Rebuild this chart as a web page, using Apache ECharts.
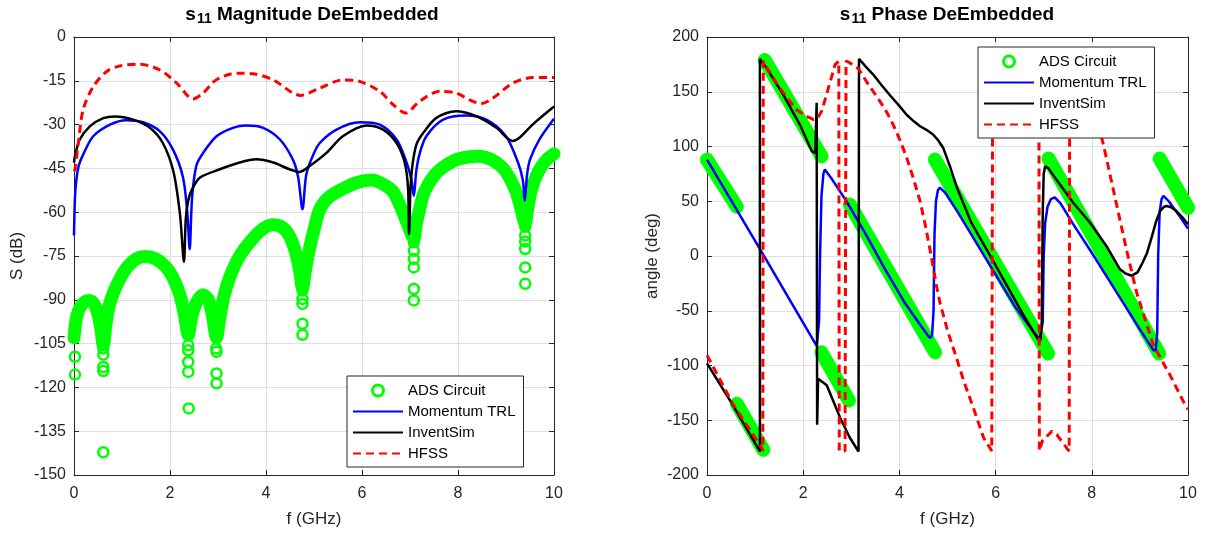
<!DOCTYPE html>
<html><head><meta charset="utf-8">
<script src="https://cdn.jsdelivr.net/npm/echarts@6/dist/echarts.min.js"></script>
<style>html,body{margin:0;padding:0;background:#fff}#c{width:1211px;height:533px}</style>
</head><body><div id="c"></div>
<script>
// ---------- axis ticks ----------
const freqTicks = [0, 2, 4, 6, 8, 10];
const magTicks = [-150, -135, -120, -105, -90, -75, -60, -45, -30, -15, 0];
const phaseTicks = [-200, -150, -100, -50, 0, 50, 100, 150, 200];
const legendNames = ['ADS Circuit', 'Momentum TRL', 'InventSim', 'HFSS'];

// ---------- magnitude (dB) ----------
const adsMagBand = [
[0,-103],[0.04,-97],[0.1,-93.5],[0.2,-91],[0.32,-90.2],[0.42,-91.5],[0.5,-95],[0.56,-100],[0.61,-105.5],
[0.66,-99],[0.72,-93],[0.8,-88.5],[0.95,-83],[1.1,-79],[1.3,-76],[1.5,-75.2],[1.7,-76],[1.9,-78.5],[2.05,-82],[2.2,-88],[2.3,-95],[2.38,-102],
[2.45,-96],[2.55,-91],[2.69,-88.3],[2.8,-90],[2.88,-95],[2.97,-103],
[3.03,-97],[3.12,-89],[3.25,-82],[3.45,-75],[3.7,-69.5],[3.95,-65.5],[4.15,-64.3],[4.35,-65.3],[4.5,-68.5],[4.62,-74],[4.7,-80],[4.76,-86],
[4.82,-80],[4.9,-73],[5.0,-66],[5.12,-59],[5.3,-55],[5.6,-52],[5.9,-49.8],[6.2,-49],[6.45,-50.5],[6.65,-53],[6.85,-60],[6.97,-65],[7.08,-69],
[7.13,-64],[7.2,-59],[7.3,-53],[7.5,-47.5],[7.7,-44.5],[8.0,-41.8],[8.42,-40.8],[8.7,-42],[8.94,-45],[9.1,-49],[9.21,-53],[9.3,-58],[9.4,-64],
[9.45,-59],[9.52,-53],[9.62,-48],[9.75,-44],[9.88,-41.5],[10,-40]
];
const adsMagDips = [
[0.02,-109.5],[0.02,-115.6],
[0.61,-106.7],[0.61,-108.8],[0.61,-113],[0.61,-114.4],[0.61,-142.2],
[2.38,-102.2],[2.38,-105.6],[2.38,-107.3],[2.38,-111.3],[2.38,-114.7],[2.39,-127.2],
[2.97,-102.7],[2.96,-106.7],[2.97,-107.8],[2.97,-115.2],[2.97,-118.6],
[4.76,-86.8],[4.76,-89.7],[4.76,-91.4],[4.76,-98.2],[4.76,-102],
[7.08,-70.3],[7.08,-73.2],[7.08,-76],[7.08,-78.9],[7.08,-86.3],[7.08,-90.2],
[9.4,-65],[9.4,-68],[9.4,-70],[9.4,-72.6],[9.4,-78.9],[9.4,-84.5]
];
const trlMag = [
[0,-68],[0.02,-55],[0.05,-48.8],[0.1,-44],[0.19,-40.3],[0.4,-34],[0.75,-30],[1.09,-28.5],[1.44,-29.2],[1.79,-32.3],[2.06,-38.5],
[2.27,-48],[2.36,-60],[2.41,-72.6],[2.46,-55],[2.55,-44],[2.69,-39.7],[2.97,-34],[3.31,-31.1],[3.59,-30.3],[3.94,-31.1],[4.29,-35.1],
[4.56,-42],[4.67,-48],[4.76,-59],[4.84,-47],[4.98,-40.5],[5.12,-36.3],[5.47,-31.7],[5.95,-29.2],[6.37,-30],[6.72,-35.1],[6.93,-43],
[7.03,-49],[7.08,-54.4],[7.13,-46],[7.2,-40],[7.34,-34],[7.69,-28.3],[8.17,-26.9],[8.59,-28.3],[9.0,-34],[9.25,-43],[9.35,-49],
[9.39,-56],[9.44,-47],[9.5,-42],[9.7,-35],[10,-28]
];
const inventMag = [
[0,-43],[0.02,-40.8],[0.12,-35.1],[0.33,-30.6],[0.61,-27.8],[0.85,-27.2],[1.23,-28.3],[1.58,-31.1],[1.85,-36.3],[2.07,-46],[2.21,-61],
[2.29,-77],[2.33,-62],[2.38,-56],[2.45,-52.5],[2.62,-48.2],[3.04,-45.3],[3.45,-43],[3.8,-41.9],[4.15,-43],[4.49,-45.3],[4.7,-46.2],
[4.91,-44.2],[5.26,-39.7],[5.6,-34],[6.09,-30.3],[6.44,-31.7],[6.72,-36.3],[6.89,-43],[6.96,-52],[6.98,-67.5],[7.01,-52],[7.05,-44],
[7.13,-37],[7.27,-33],[7.55,-27.7],[7.96,-25.4],[8.38,-27.1],[8.8,-31.1],[9.14,-35.6],[9.28,-34.5],[9.56,-29.9],[10,-23.8]
];
const hfssMag = [
[0.0,-46],[0.02,-45.3],[0.09,-36.3],[0.19,-24.9],[0.4,-17],[0.68,-11.8],[0.96,-9.9],[1.37,-9.3],[1.79,-11.3],[2.14,-15.8],[2.48,-21.2],
[2.69,-19.2],[2.96,-14.7],[3.39,-12.4],[3.73,-12.6],[4.15,-14.7],[4.56,-19.2],[4.72,-20],[5.12,-17.5],[5.6,-14.7],[5.95,-15.2],
[6.37,-18.6],[6.65,-23.2],[6.91,-26],[7.2,-22],[7.62,-18.6],[7.96,-19.2],[8.24,-21.5],[8.48,-22.8],[8.73,-20.9],[9.14,-15.8],
[9.56,-13.9],[10,-13.9]
];

// ---------- phase (deg) ----------
const adsPhaseSegments = [
[[0,88],[0.62,45]],
[[0.62,-135],[1.17,-177]],
[[1.2,179],[2.38,91]],
[[2.38,-88],[2.95,-132]],
[[2.97,47],[4.74,-88]],
[[4.74,88],[7.09,-89]],
[[7.1,89],[9.4,-89]],
[[9.41,89],[10,44]]
];
const trlPhase = [
[0,88],[1.2,-1],[2.28,-82],[2.31,-81],[2.33,-60],[2.35,0],[2.38,55],[2.42,75],[2.45,79],[2.6,70],[2.9,50],[3.3,20],[3.7,-12],
[4.1,-42],[4.45,-64],[4.6,-73],[4.64,-75],[4.68,-72],[4.71,-50],[4.73,20],[4.76,50],[4.8,60],[4.84,62.4],[4.95,58],[5.2,41],
[5.6,12],[6.0,-17],[6.4,-46],[6.8,-70],[6.92,-76],[6.95,-75],[6.98,-60],[7.0,0],[7.03,30],[7.08,45],[7.15,52],[7.23,53.5],
[7.35,48],[7.6,30],[8.0,3],[8.5,-32],[9.0,-67],[9.28,-86],[9.33,-86],[9.36,-70],[9.38,0],[9.41,40],[9.45,52],[9.49,55],
[9.6,50],[9.8,38],[10,25]
];
const inventPhase = [
[0,-98],[0.55,-137],[1.1,-178.5],[1.1,180],[1.24,171.5],[1.59,147],[1.93,120],[2.18,95.7],[2.25,94],[2.27,94],[2.28,140],
[2.285,140],[2.29,-154],[2.295,-154],[2.31,-112],[2.35,-113],[2.49,-118],[2.77,-148],[2.97,-166],[3.15,-178.5],[3.16,180],
[3.3,173],[3.46,165.5],[3.63,156],[3.8,147],[3.98,138],[4.15,129],[4.3,123],[4.43,118.5],[4.57,115],[4.7,111],[4.8,106],
[4.91,98.8],[5.0,88],[5.05,82],[5.2,62],[5.5,30],[5.93,-3],[6.3,-32],[6.58,-54],[6.88,-76],[6.93,-77],[6.96,-60],[6.98,40],
[7.0,75],[7.03,82],[7.1,80],[7.26,70],[7.61,48.8],[7.96,30.6],[8.3,9.4],[8.58,-11.8],[8.7,-16],[8.83,-18],[8.95,-15],
[9.06,-5.7],[9.15,3],[9.25,18],[9.34,32],[9.42,41],[9.5,45],[9.56,45.7],[9.65,44.5],[9.76,41],[9.88,35.5],[10,29]
];
const hfssPhase = [
[0,-90.6],[0.55,-136],[1.14,-175.4],[1.16,-178],[1.17,178],[1.2,175],[1.52,153],[1.86,133.6],[2.07,127.5],[2.22,124.5],
[2.3,126],[2.38,132],[2.47,145],[2.56,159],[2.62,168],[2.66,174.5],[2.74,178],[2.75,-178],[2.87,-178],[2.89,178],[2.95,177],
[3.15,171],[3.32,159],[3.46,150],[3.6,141],[3.74,131],[3.87,120],[4.01,106],[4.15,90],[4.29,71],[4.43,50],[4.54,28],[4.64,5],
[4.77,-27],[4.84,-42],[5.0,-68],[5.19,-93.6],[5.36,-117],[5.54,-139],[5.75,-166],[5.92,-178],[5.94,178],[6.1,160],
[6.4,135],[6.7,150],[6.9,178],[6.91,-178],[6.97,-169],[7.17,-160],[7.27,-163],[7.48,-175.5],[7.53,-178],[7.54,178],
[7.8,165],[8.0,143],[8.24,102],[8.72,6],[8.93,-33],[9.28,-81.5],[9.63,-109],[9.94,-136],[10,-140]
];

// ---------- build ----------
const FONT = "'Liberation Sans', Arial, Helvetica, sans-serif";
const AX = '#262626';
const GREEN = '#00ff00', BLUE = '#0000ff', BLACK = '#000000', RED = '#ff0000';

function withGaps(segs) {
  const out = [];
  segs.forEach((s, i) => { if (i) out.push([s[0][0], null]); s.forEach(p => out.push(p)); });
  return out;
}
function range(t) { return { min: t[0], max: t[t.length - 1], interval: t[1] - t[0] }; }

function mainX(grid, name) {
  return Object.assign({
    gridIndex: grid, type: 'value', position: 'bottom', name: name, nameLocation: 'middle', nameGap: 36,
    nameTextStyle: { fontSize: 17, color: AX, fontFamily: FONT },
    axisLine: { show: true, onZero: false, lineStyle: { color: AX, width: 1 } },
    axisTick: { show: true, inside: true, length: 5, lineStyle: { color: AX } },
    axisLabel: { color: AX, fontSize: 16, fontFamily: FONT, margin: 11 },
    splitLine: { show: true, lineStyle: { color: '#dfdfdf', width: 1 } }
  }, range(freqTicks));
}
function boxX(grid) {
  return Object.assign({
    gridIndex: grid, type: 'value', position: 'top',
    axisLine: { show: true, onZero: false, lineStyle: { color: AX, width: 1 } },
    axisTick: { show: true, inside: true, length: 5, lineStyle: { color: AX } },
    axisLabel: { show: false }, splitLine: { show: false }
  }, range(freqTicks));
}
function mainY(grid, name, ticks, gap) {
  return Object.assign({
    gridIndex: grid, type: 'value', position: 'left', name: name, nameLocation: 'middle', nameGap: gap,
    nameTextStyle: { fontSize: 17, color: AX, fontFamily: FONT },
    axisLine: { show: true, onZero: false, lineStyle: { color: AX, width: 1 } },
    axisTick: { show: true, inside: true, length: 5, lineStyle: { color: AX } },
    axisLabel: { color: AX, fontSize: 16, fontFamily: FONT, margin: 8 },
    splitLine: { show: true, lineStyle: { color: '#dfdfdf', width: 1 } }
  }, range(ticks));
}
function boxY(grid, ticks) {
  return Object.assign({
    gridIndex: grid, type: 'value', position: 'right',
    axisLine: { show: true, onZero: false, lineStyle: { color: AX, width: 1 } },
    axisTick: { show: true, inside: true, length: 5, lineStyle: { color: AX } },
    axisLabel: { show: false }, splitLine: { show: false }
  }, range(ticks));
}
function lineSeries(name, data, xi, color, width, type, smooth) {
  return { name: name, type: 'line', xAxisIndex: xi, yAxisIndex: xi, data: data, symbol: 'none',
    smooth: smooth || false,
    lineStyle: { color: color, width: width, type: type || 'solid' }, itemStyle: { color: color },
    silent: true, clip: true };
}
function bandSeries(data, xi, width, smooth) {
  return { name: 'ADS Circuit', type: 'line', xAxisIndex: xi, yAxisIndex: xi, data: data, symbol: 'none',
    smooth: smooth || false, connectNulls: false,
    lineStyle: { color: GREEN, width: width, cap: 'round', join: 'round' },
    itemStyle: { color: GREEN }, silent: true, clip: true };
}
const hiddenMarker = { color: 'rgba(0,0,0,0)', borderColor: 'rgba(0,0,0,0)', borderWidth: 0 };
function legendFor(left, top) {
  return {
    orient: 'vertical', left: left, top: top, selectedMode: false,
    itemWidth: 50, itemHeight: 11, itemGap: 6,
    padding: [7, 8, 6, 5], borderColor: AX, borderWidth: 1, backgroundColor: '#ffffff',
    textStyle: { fontSize: 15, color: '#000', fontFamily: FONT },
    data: [
      { name: legendNames[0], icon: 'circle', itemStyle: { color: 'rgba(0,0,0,0)', borderColor: GREEN, borderWidth: 3 } },
      { name: legendNames[1], itemStyle: hiddenMarker },
      { name: legendNames[2], itemStyle: hiddenMarker },
      { name: legendNames[3], itemStyle: hiddenMarker }
    ]
  };
}
function titleFor(cx, text) {
  const base = { fontSize: 19, fontWeight: 'bold', color: '#000', fontFamily: FONT, lineHeight: 21, verticalAlign: 'top' };
  return {
    text: '{s|s}{sub|11}{t| ' + text + '}', left: cx, top: 5, textAlign: 'center', padding: 0,
    textStyle: { rich: {
      s: base, t: base,
      sub: { fontSize: 14, fontWeight: 'bold', color: '#000', fontFamily: FONT, lineHeight: 14, padding: [12, 0, 0, 1], verticalAlign: 'bottom' }
    } }
  };
}

const option = {
  animation: false,
  backgroundColor: '#ffffff',
  title: [titleFor(312, 'Magnitude DeEmbedded'), titleFor(947, 'Phase DeEmbedded')],
  grid: [
    { left: 74, top: 37, width: 480, height: 440 },
    { left: 707, top: 37, width: 481, height: 440 }
  ],
  xAxis: [mainX(0, 'f (GHz)'), boxX(0), mainX(1, 'f (GHz)'), boxX(1)],
  yAxis: [mainY(0, 'S (dB)', magTicks, 48), boxY(0, magTicks), mainY(1, 'angle (deg)', phaseTicks, 46), boxY(1, phaseTicks)],
  legend: [legendFor(347, 376), legendFor(978, 47)],
  series: [
    bandSeries(adsMagBand, 0, 13, 0.3),
    { name: 'ADS Circuit', type: 'scatter', xAxisIndex: 0, yAxisIndex: 0, data: adsMagDips, symbol: 'circle', symbolSize: 10,
      itemStyle: { color: 'rgba(0,0,0,0)', borderColor: GREEN, borderWidth: 2.5, opacity: 1 }, silent: true },
    lineSeries('Momentum TRL', trlMag, 0, BLUE, 2.5, 'solid', 0.3),
    lineSeries('InventSim', inventMag, 0, BLACK, 2.5, 'solid', 0.3),
    lineSeries('HFSS', hfssMag, 0, RED, 3, [8, 5], 0.3),
    bandSeries(withGaps(adsPhaseSegments), 2, 14),
    lineSeries('Momentum TRL', trlPhase, 2, BLUE, 2.5),
    lineSeries('InventSim', inventPhase, 2, BLACK, 2.5),
    lineSeries('HFSS', hfssPhase, 2, RED, 3, [8, 5])
  ]
};
const chart = echarts.init(document.getElementById('c'), null, { renderer: 'canvas' });
chart.setOption(option);
</script></body></html>
